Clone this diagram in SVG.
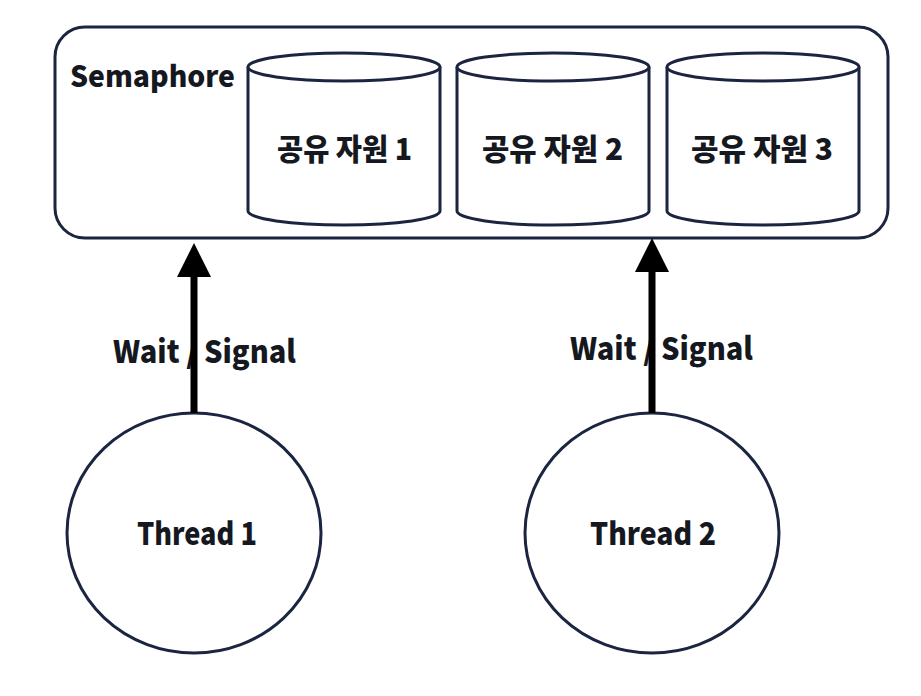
<svg xmlns="http://www.w3.org/2000/svg" width="921" height="696" viewBox="0 0 921 696">
<style>
.shape{fill:#fff;stroke:#1b2440;stroke-width:3}
.lbl{font-family:"Noto Sans CJK KR","Noto Sans",sans-serif;font-weight:900;fill:#15191f}
.conn{stroke:#000;stroke-width:7;fill:none}
</style>
<rect width="921" height="696" fill="#fff"/>
<g id="semaphore">
<rect class="shape" x="55" y="27" width="833" height="211" rx="30"/>
<text class="lbl" x="70" y="87" font-size="29" textLength="165" lengthAdjust="spacingAndGlyphs">Semaphore</text>
</g>
<g id="res1">
<path class="shape" d="M248,67 L248,211 A96,14 0 0 0 440,211 L440,67"/>
<ellipse class="shape" cx="344" cy="67" rx="96" ry="14"/>
<text class="lbl" x="277" y="160" font-size="30" textLength="135" lengthAdjust="spacingAndGlyphs">공유 자원 1</text>
</g>
<g id="res2">
<path class="shape" d="M457,67 L457,211 A96,14 0 0 0 649,211 L649,67"/>
<ellipse class="shape" cx="553" cy="67" rx="96" ry="14"/>
<text class="lbl" x="482" y="160" font-size="30" textLength="141" lengthAdjust="spacingAndGlyphs">공유 자원 2</text>
</g>
<g id="res3">
<path class="shape" d="M667,67 L667,211 A96,14 0 0 0 859,211 L859,67"/>
<ellipse class="shape" cx="763" cy="67" rx="96" ry="14"/>
<text class="lbl" x="691" y="160" font-size="30" textLength="142" lengthAdjust="spacingAndGlyphs">공유 자원 3</text>
</g>
<g id="thread1">
<ellipse class="shape" cx="194" cy="533" rx="127" ry="120"/>
<text class="lbl" x="137" y="545" font-size="31" textLength="120" lengthAdjust="spacingAndGlyphs">Thread 1</text>
</g>
<g id="thread2">
<ellipse class="shape" cx="652" cy="533" rx="127" ry="120"/>
<text class="lbl" x="590" y="545" font-size="31" textLength="126" lengthAdjust="spacingAndGlyphs">Thread 2</text>
</g>
<g id="labels">
<text class="lbl" x="113" y="363" font-size="31" textLength="183" lengthAdjust="spacingAndGlyphs">Wait / Signal</text>
<text class="lbl" x="570" y="360" font-size="31" textLength="183" lengthAdjust="spacingAndGlyphs">Wait / Signal</text>
</g>
<g id="connectors">
<line class="conn" x1="194" y1="413" x2="194" y2="276"/>
<path d="M177,277 L194,243 L211,277 Z" fill="#000"/>
<line class="conn" x1="652" y1="413" x2="652" y2="271"/>
<path d="M635,272 L652,238 L669,272 Z" fill="#000"/>
</g>
</svg>
